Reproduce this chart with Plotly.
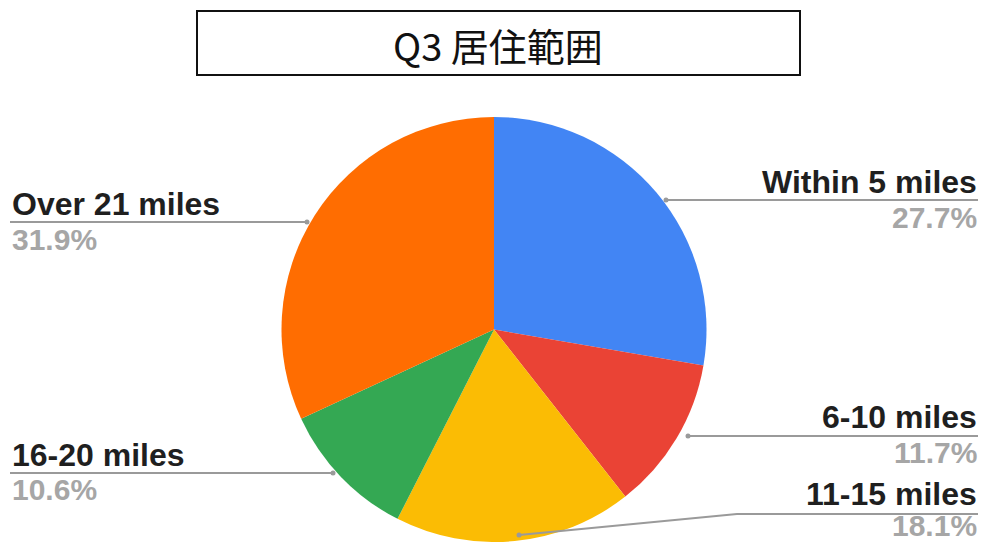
import plotly.graph_objects as go

W, H = 985, 542

categories = ["Within 5 miles", "6-10 miles", "11-15 miles", "16-20 miles", "Over 21 miles"]
values = [27.7, 11.7, 18.1, 10.6, 31.9]
colors = ["#4285F4", "#EA4335", "#FBBC04", "#34A853", "#FF6D01"]
title_text = "Q3 居住範囲"


def px(x):
    return x / W


def py(y):
    return 1 - y / H


fig = go.Figure()
fig.add_trace(go.Pie(
    labels=categories,
    values=values,
    marker=dict(colors=colors, line=dict(width=0)),
    sort=False,
    direction="clockwise",
    rotation=0,
    textinfo="none",
    hoverinfo="label+percent",
    showlegend=False,
    domain=dict(x=[px(494 - 213), px(494 + 213)], y=[0, py(117)]),
))

LABEL_FONT = dict(family="Liberation Sans, Arial, sans-serif", size=32, color="#1f1f1f")
PCT_FONT = dict(family="Liberation Sans, Arial, sans-serif", size=30, color="#a6a6a6")

# (label index, side, label y-center, pct y-center)
label_layout = [
    (0, "right", 182, 217),
    (1, "right", 417, 452),
    (2, "right", 494, 525),
    (3, "left", 455, 489),
    (4, "left", 204, 239),
]

annotations = []
for i, side, ly, pyc in label_layout:
    if side == "right":
        xa, anchor = px(979), "right"
    else:
        xa, anchor = px(10), "left"
    annotations.append(dict(
        x=xa, y=py(ly), xref="paper", yref="paper", xanchor=anchor, yanchor="middle",
        text="<b>%s</b>" % categories[i], showarrow=False, font=LABEL_FONT,
    ))
    annotations.append(dict(
        x=xa, y=py(pyc), xref="paper", yref="paper", xanchor=anchor, yanchor="middle",
        text="<b>%.1f%%</b>" % values[i], showarrow=False, font=PCT_FONT,
    ))

annotations.append(dict(
    x=px(498), y=py(44), xref="paper", yref="paper", xanchor="center", yanchor="middle",
    text=title_text, showarrow=False,
    font=dict(family="Noto Sans CJK JP, Noto Sans, sans-serif", size=38, color="#111111"),
))

LINE = dict(color="#9a9a9a", width=2)
leader_paths = [
    [(666, 200), (978, 200)],
    [(688, 436), (978, 436)],
    [(519, 535), (737, 514), (978, 514)],
    [(333, 473), (10, 473)],
    [(307, 222), (10, 222)],
]
shapes = []
for pts in leader_paths:
    path = "M " + " L ".join("%f,%f" % (px(x), py(y)) for x, y in pts)
    shapes.append(dict(type="path", xref="paper", yref="paper", path=path, line=LINE))
    x0, y0 = pts[0]
    shapes.append(dict(type="circle", xref="paper", yref="paper",
                       x0=px(x0 - 2.5), x1=px(x0 + 2.5), y0=py(y0 + 2.5), y1=py(y0 - 2.5),
                       fillcolor="#9a9a9a", line=dict(width=0)))

shapes.append(dict(type="rect", xref="paper", yref="paper",
                   x0=px(197), x1=px(800), y0=py(75), y1=py(11),
                   line=dict(color="#111111", width=2), fillcolor="rgba(0,0,0,0)"))

fig.update_layout(
    width=W, height=H,
    margin=dict(l=0, r=0, t=0, b=0),
    paper_bgcolor="white",
    plot_bgcolor="white",
    annotations=annotations,
    shapes=shapes,
)

fig.write_html(
    "out.html",
    config={"displayModeBar": False},
    post_script="document.body.style.margin='0';document.body.style.overflow='hidden';",
)
